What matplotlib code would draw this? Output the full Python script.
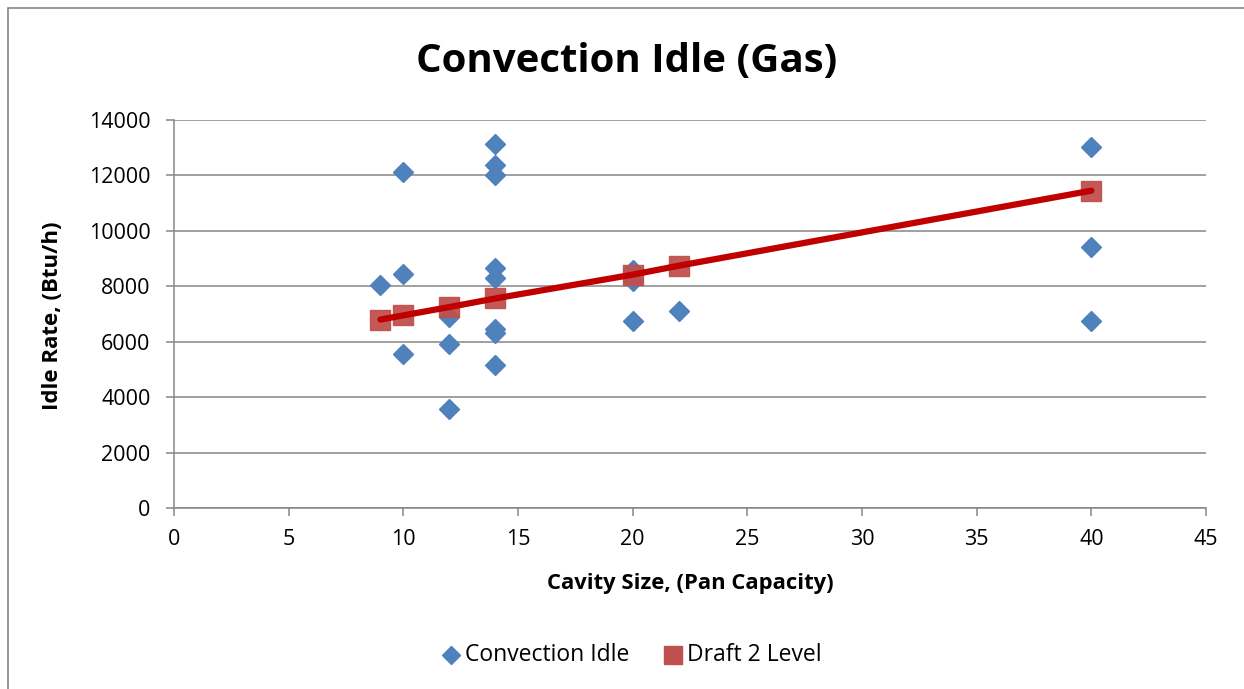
import matplotlib
matplotlib.use("Agg")
import matplotlib.pyplot as plt
from matplotlib.patches import Rectangle
from matplotlib.lines import Line2D

# Data
idle_x = [9, 10, 10, 10, 12, 12, 12, 14, 14, 14, 14, 14, 14, 14, 14, 20, 20, 20, 22, 40, 40, 40]
idle_y = [8030, 12130, 8450, 5550, 6900, 5930, 3580, 13120, 12380, 12010, 8650, 8300, 6450, 6300, 5150,
          8600, 8200, 6730, 7120, 13020, 9430, 6730]
draft_x = [9, 10, 12, 14, 20, 22, 40]
draft_y = [6800, 6950, 7250, 7560, 8420, 8740, 11450]
x_ticks = [0, 5, 10, 15, 20, 25, 30, 35, 40, 45]
y_ticks = [0, 2000, 4000, 6000, 8000, 10000, 12000, 14000]
legend_labels = ["Convection Idle", "Draft 2 Level"]

FONT = "Open Sans"
W, H = 1244, 689
fig = plt.figure(figsize=(W / 100, H / 100), dpi=100)
fig.patch.set_facecolor("white")

# chart border
fig.add_artist(Rectangle((8 / W, -0.01), 1.02, 1 - 8 / H + 0.01, transform=fig.transFigure,
                         fill=False, edgecolor="#868686", linewidth=1.2))

ax = fig.add_axes([174 / W, 1 - 508 / H, (1206 - 174) / W, (508 - 120) / H])
ax.set_xlim(0, 45)
ax.set_ylim(0, 14000)
ax.set_xticks(x_ticks)
ax.set_yticks(y_ticks)
ax.set_xticklabels([str(v) for v in x_ticks], fontfamily=FONT, fontsize=15.5)
ax.set_yticklabels([str(v) for v in y_ticks], fontfamily=FONT, fontsize=15.5)
ax.yaxis.grid(True, color="#868686", linewidth=1.1)
ax.set_axisbelow(True)
for s in ["top", "right"]:
    ax.spines[s].set_visible(False)
for s in ["left", "bottom"]:
    ax.spines[s].set_color("#868686")
    ax.spines[s].set_linewidth(1.1)
ax.tick_params(axis="both", direction="out", length=6, width=1.1, color="#868686")
ax.tick_params(axis="y", pad=11)
ax.tick_params(axis="x", pad=9)

ax.plot(idle_x, idle_y, linestyle="none", marker="D", markersize=10.5,
        color="#4F81BD", markeredgecolor="#4F81BD", zorder=3)
ax.plot(draft_x, draft_y, linestyle="none", marker="s", markersize=14.5,
        color="#C0504D", markeredgecolor="#C0504D", alpha=0.95, zorder=4)
ax.plot(draft_x, draft_y, color="#C00000", linewidth=4.5, solid_capstyle="round", zorder=5)

ax.set_xlabel("Cavity Size, (Pan Capacity)", fontfamily=FONT, fontsize=15.8, fontweight="bold")
ax.set_ylabel("Idle Rate, (Btu/h)", fontfamily=FONT, fontsize=16, fontweight="bold")
ax.xaxis.set_label_coords((690 - 174) / 1032, -(583 - 508) / 388)
ax.xaxis.label.set_va("center")
ax.yaxis.set_label_coords((53 - 174) / 1032, (508 - 316) / 388)
ax.yaxis.label.set_va("center")

fig.text(627 / W, 1 - 61 / H, "Convection Idle (Gas)", ha="center", va="center",
         fontfamily=FONT, fontsize=29, fontweight="bold")

# legend
ly = 1 - 655 / H
fig.add_artist(Line2D([451 / W], [ly], transform=fig.transFigure, linestyle="none",
                      marker="D", markersize=9.5, color="#4F81BD"))
fig.text(465 / W, ly, legend_labels[0], ha="left", va="center", fontfamily=FONT, fontsize=16.5)
fig.add_artist(Line2D([673 / W], [ly], transform=fig.transFigure, linestyle="none",
                      marker="s", markersize=13.5, color="#C0504D"))
fig.text(687 / W, ly, legend_labels[1], ha="left", va="center", fontfamily=FONT, fontsize=16.5)

fig.savefig("out.png", dpi=100)
